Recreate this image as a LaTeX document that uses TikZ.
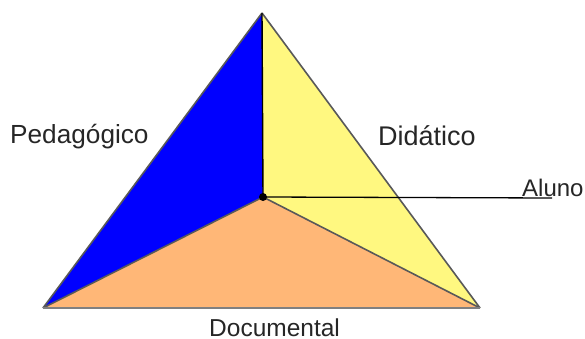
\documentclass[tikz,border=0pt]{standalone}
\usepackage{fontspec}
\setmainfont{Liberation Sans}
\begin{document}
\begin{tikzpicture}[x=1pt,y=-1pt,
  edge/.style={draw=black!65, line width=1.6pt, line join=round},
  lbl/.style={anchor=base west, inner sep=0pt, text=black!85}]
\useasboundingbox (0,0) rectangle (585,339);
\coordinate (top) at (262,13);
\coordinate (bl) at (43,308);
\coordinate (br) at (480,308);
\coordinate (c) at (263,197);
\coordinate (end) at (552,198);
\fill[blue] (top) -- (c) -- (bl) -- cycle;
\fill[yellow!50] (top) -- (br) -- (c) -- cycle;
\fill[fill={rgb,255:red,255;green,183;blue,119}] (bl) -- (c) -- (br) -- cycle;
\draw[edge] (c) -- (bl);
\draw[edge] (c) -- (br);
\draw[edge] (top) -- (bl);
\draw[edge] (top) -- (br);
\draw[draw=black!50, line width=2.6pt] (bl) -- (br);
\draw[black, line width=1.4pt] (top) -- (c);
\draw[black, line width=1.3pt] (c) -- (end);
\fill[black] (c) circle (4);
\node[lbl, font=\fontsize{26.2}{28}\selectfont] (ped) at (10,143) {Pedagógico};
\node[lbl, font=\fontsize{27}{28}\selectfont] (did) at (378,146) {Didático};
\node[lbl, font=\fontsize{24}{26}\selectfont] (alu) at (522,196) {Aluno};
\node[lbl, font=\fontsize{24.5}{26}\selectfont, text depth=0pt] (doc) at (209,336) {Documental};
\end{tikzpicture}
\end{document}
